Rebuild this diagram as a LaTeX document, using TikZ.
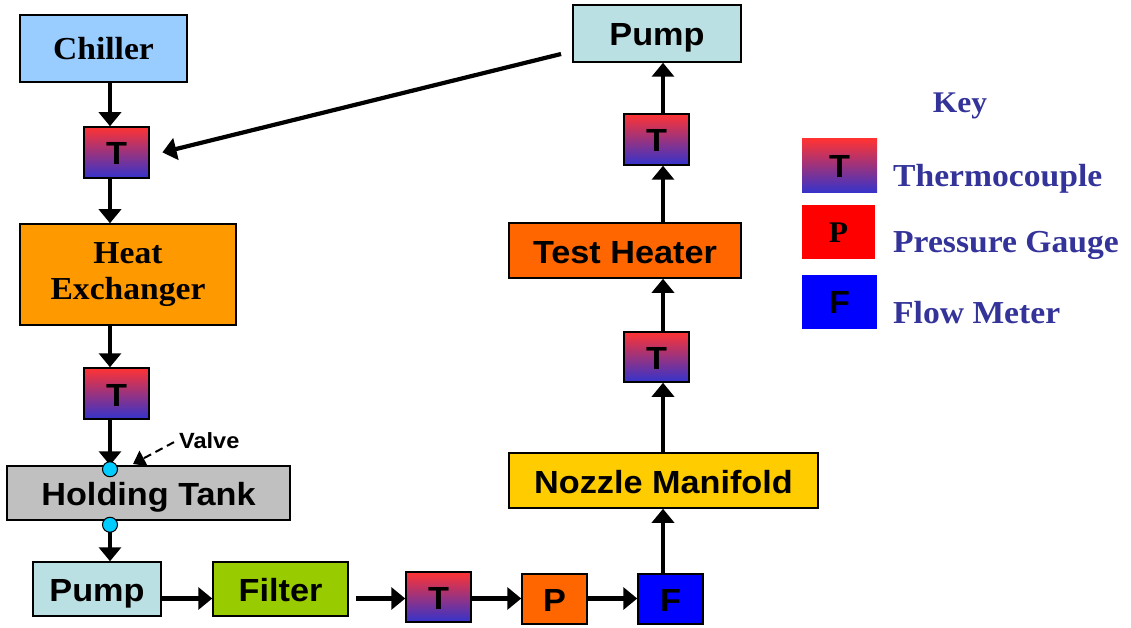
\documentclass[tikz,border=0pt]{standalone}
\usepackage{fontspec}
\setmainfont{Liberation Serif}
\setsansfont{Liberation Sans}
\newfontfamily\sansb[FakeStretch=1.07]{Liberation Sans}
\newfontfamily\serifb[FakeStretch=1.05]{Liberation Serif}
\usetikzlibrary{arrows.meta,calc}

\definecolor{chillerC}{HTML}{99CCFF}
\definecolor{hxC}{HTML}{FF9900}
\definecolor{tankC}{HTML}{C0C0C0}
\definecolor{pumpC}{HTML}{BBE0E3}
\definecolor{filterC}{HTML}{99CC00}
\definecolor{heaterC}{HTML}{FF6600}
\definecolor{nozzleC}{HTML}{FFCC00}
\definecolor{tTop}{HTML}{FF3333}
\definecolor{tBot}{HTML}{3333CC}
\definecolor{valveC}{HTML}{00CCFF}
\definecolor{keyC}{HTML}{333399}

\tikzset{
  box/.style={draw=black, line width=1.5pt, inner sep=0pt},
  sbox/.style={box, font=\sansb\bfseries\fontsize{32}{36}\selectfont,
    text height=25pt, text depth=-2pt},
  rbox/.style={box, font=\serifb\bfseries\fontsize{32}{38}\selectfont},
  tc/.style={sbox, top color=tTop, bottom color=tBot,
    minimum width=65pt, minimum height=51pt},
  gauge/.style={sbox, minimum width=65pt, minimum height=50pt},
  keybox/.style={inner sep=0pt, minimum width=75pt, minimum height=54pt},
  keytext/.style={anchor=base west, inner sep=0pt, text=keyC,
    font=\serifb\bfseries\fontsize{32}{36}\selectfont},
  valve/.style={circle, draw=black, line width=1pt, fill=valveC,
    minimum size=15pt, inner sep=0pt},
  arr/.style={line width=4.2pt, -{Triangle[width=22pt,length=14pt]}},
  dasharr/.style={line width=2pt, dashed, dash pattern=on 8pt off 5pt,
    -{Triangle[width=17pt,length=12pt]}}
}

\begin{document}
\begin{tikzpicture}[x=1pt, y=-1pt]
\useasboundingbox (0,0) rectangle (1131,628);

% left column: chiller down to the lower pump
\node[rbox, fill=chillerC, minimum width=167pt, minimum height=67pt] (chiller) at (103.5,48.5) {Chiller};
\node[tc] (t1) at (116.5,152.5) {T};
\node[rbox, fill=hxC, minimum width=216pt, minimum height=101pt, align=center] (hx) at (128,274.5) {\raisebox{-3pt}{Heat}\\[1pt]Exchanger};
\node[tc] (t2) at (116.5,393.5) {T};
\node[sbox, fill=tankC, minimum width=283pt, minimum height=54pt] (tank) at (148.5,493) {Holding Tank};
\node[sbox, fill=pumpC, minimum width=128pt, minimum height=54pt] (pumpb) at (97,589) {Pump};

% bottom row
\node[sbox, fill=filterC, minimum width=135pt, minimum height=54pt] (filter) at (280.5,589) {Filter};
\node[tc, minimum height=50pt] (t3) at (438.5,597) {T};
\node[gauge, fill=heaterC] (p) at (554.5,599) {P};
\node[gauge, fill=blue] (f) at (670.5,599) {F};

% right column: manifold up to the upper pump
\node[sbox, fill=nozzleC, minimum width=309pt, minimum height=55pt] (nozzle) at (663.5,480.5) {Nozzle Manifold};
\node[tc, minimum height=50pt] (t4) at (656.5,357) {T};
\node[sbox, fill=heaterC, minimum width=232pt, minimum height=55pt] (heater) at (625,250.5) {Test Heater};
\node[tc] (t5) at (656.5,139.5) {T};
\node[sbox, fill=pumpC, minimum width=168pt, minimum height=57pt] (pumpt) at (657,33.5) {Pump};

% pipe lines
\coordinate (xl) at (110,0);
\coordinate (xr) at (663,0);
\coordinate (yb) at (0,598.5);

\draw[arr] (chiller.south -| xl) -- (t1.north -| xl);
\draw[arr] (t1.south -| xl) -- (hx.north -| xl);
\draw[arr] (hx.south -| xl) -- (t2.north -| xl);
\draw[arr] (t2.south -| xl) -- (tank.north -| xl);
\draw[arr] (tank.south -| xl) -- (pumpb.north -| xl);

\draw[arr] (pumpb.east |- yb) -- (filter.west |- yb);
\draw[arr, shorten <=7pt] (filter.east |- yb) -- (t3.west |- yb);
\draw[arr] (t3.east |- yb) -- (p.west |- yb);
\draw[arr] (p.east |- yb) -- (f.west |- yb);

\draw[arr] (f.north -| xr) -- (nozzle.south -| xr);
\draw[arr] (nozzle.north -| xr) -- (t4.south -| xr);
\draw[arr] (t4.north -| xr) -- (heater.south -| xr);
\draw[arr] (heater.north -| xr) -- (t5.south -| xr);
\draw[arr] (t5.north -| xr) -- (pumpt.south -| xr);

% return line from the upper pump
\coordinate (ret) at (561,54);
\draw[arr, shorten >=13pt] (ret) -- ($(t1.east)+(0,3)$);

% valves on the holding tank
\node[valve, yshift=-4pt] (v1) at (tank.north -| xl) {};
\node[valve, yshift=-4pt] (v2) at (tank.south -| xl) {};
\node[font=\sansb\bfseries\fontsize{22}{24}\selectfont, anchor=base west, inner sep=0pt] (vlab) at (179,448) {Valve};
\coordinate (vtip) at (133,464);
\draw[dasharr] ($(vlab.west)+(-5,2)$) -- (vtip);

% key
\node[text=keyC, font=\serifb\bfseries\fontsize{30}{34}\selectfont] (keyt) at (960,106) {Key};
\node[keybox, top color=tTop, bottom color=tBot, font=\sansb\bfseries\fontsize{32}{36}\selectfont, text height=23pt, text depth=0pt] (kt) at (839.5,166) {T};
\node[keybox, fill=red, minimum width=73pt, minimum height=53pt, font=\serifb\bfseries\fontsize{30}{34}\selectfont, text height=20pt, text depth=0pt] (kp) at (838.5,232) {P};
\node[keybox, fill=blue, font=\sansb\bfseries\fontsize{32}{36}\selectfont, text height=23pt, text depth=0pt] (kf) at (839.5,302) {F};
\node[keytext] (lt) at (893,187) {Thermocouple};
\node[keytext] (lp) at (893,252) {Pressure Gauge};
\node[keytext] (lf) at (893,323) {Flow Meter};
\end{tikzpicture}
\end{document}
